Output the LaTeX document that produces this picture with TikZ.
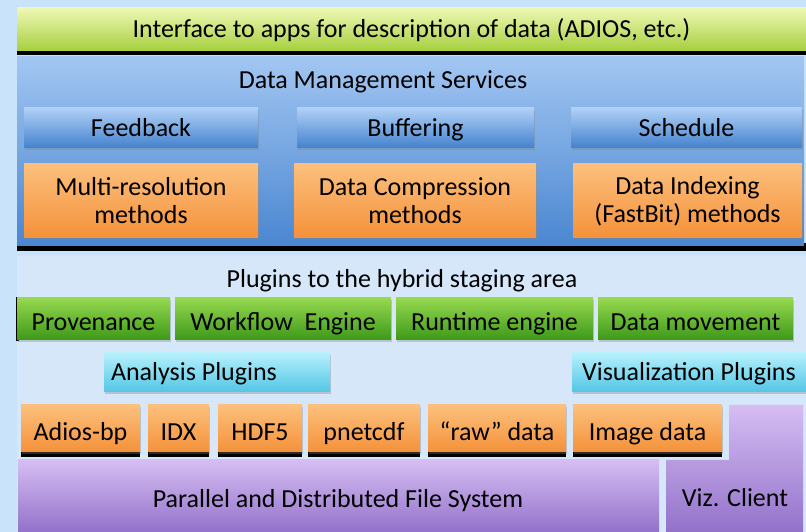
\documentclass[tikz,border=0pt]{standalone}
\usepackage{fontspec}
\setmainfont{Carlito}
\usetikzlibrary{shadows}
\definecolor{bgblue}{HTML}{C8E3FA}
\definecolor{panelbg}{HTML}{D5E7F9}
\definecolor{grnT}{HTML}{EEF8B4}
\definecolor{grnB}{HTML}{A6CF3E}
\definecolor{dmT}{HTML}{A2C6F2}
\definecolor{dmB}{HTML}{4A86D0}
\definecolor{bbT}{HTML}{AFD0F6}
\definecolor{bbB}{HTML}{4482CE}
\definecolor{orT}{HTML}{FCC07C}
\definecolor{orB}{HTML}{F5913A}
\definecolor{gbT}{HTML}{96D850}
\definecolor{gbB}{HTML}{3D9918}
\definecolor{cyT}{HTML}{B6F0FB}
\definecolor{cyB}{HTML}{52C6E6}
\definecolor{puT}{HTML}{D6BDF3}
\definecolor{puB}{HTML}{9272CA}
\tikzset{
  base/.style={inner sep=0pt, outer sep=0pt, align=center, font=\fontsize{26}{28}\selectfont, text=black},
  sl/.style={text height=17pt, text depth=0pt},
  sllow/.style={text height=24pt, text depth=0pt},
  shad/.style={drop shadow={shadow xshift=1pt, shadow yshift=-2pt, opacity=.35}},
  bluebtn/.style={base, top color=bbT, bottom color=bbB, shad},
  orangebtn/.style={base, top color=orT, bottom color=orB, shad},
  greenbtn/.style={base, top color=gbT, bottom color=gbB, shad},
  cyanbtn/.style={base, top color=cyT, bottom color=cyB, shad},
  purplebox/.style={base, top color=puT, bottom color=puB},
  topbar/.style={base, top color=grnT, bottom color=grnB},
  dmpanel/.style={base, top color=dmT, bottom color=dmB},
  lowpanel/.style={base, fill=panelbg},
  label/.style={base, sl}
}
\newcommand{\blk}[7]{\node[#6, minimum width={(#4-#2)*1pt}, minimum height={(#5-#3)*1pt}] (#1) at ({(#2+#4)/2},{532-(#3+#5)/2}) {#7};}
\begin{document}
\begin{tikzpicture}[x=1pt,y=1pt]
\fill[bgblue] (0,0) rectangle (806,532);
\useasboundingbox (0,0) rectangle (806,532);
% top bar
\fill[black] (17,{532-55}) rectangle (806,{532-48});
\blk{iface}{17}{8}{806}{51}{topbar,sl}{Interface to apps for description of data (ADIOS, etc.)}
% data management panel
\fill[black] (17,{532-251}) rectangle (806,{532-243});
\blk{dms}{17}{57}{804}{246}{dmpanel}{}
\node[label] (dmstitle) at (383,{532-80}) {Data Management Services};
\blk{feedback}{24}{108}{258}{148}{bluebtn,sl}{Feedback}
\blk{buffering}{297}{108}{534}{148}{bluebtn,sl}{Buffering}
\blk{schedule}{571}{108}{802}{148}{bluebtn,sl}{Schedule}
\blk{multires}{24}{164}{258}{238}{orangebtn}{Multi-resolution\\methods}
\blk{compress}{294}{164}{536}{238}{orangebtn}{Data Compression\\methods}
\blk{indexing}{573}{164}{802}{238}{orangebtn}{Data Indexing\\(FastBit) methods}
% lower panel
\blk{plugpanel}{17}{256}{806}{532}{lowpanel}{}
\node[label] (plugtitle) at (402,{532-279}) {Plugins to the hybrid staging area};
\fill[black] (16,{532-341}) rectangle (19,{532-297});
\blk{provenance}{17}{298}{170}{340}{greenbtn,sllow}{Provenance}
\blk{workflow}{175}{298}{391}{340}{greenbtn,sllow}{Workflow\ \ Engine}
\blk{runtime}{396}{298}{593}{340}{greenbtn,sllow}{Runtime engine}
\blk{datamove}{598}{298}{793}{340}{greenbtn,sllow}{Data movement}
\blk{analysis}{104}{353}{330}{392}{cyanbtn,sl}{\hspace*{-46pt}Analysis Plugins}
\blk{visual}{572}{353}{806}{392}{cyanbtn,sl}{Visualization Plugins}
% format row with black base shadows
\foreach \a/\b in {21/140,148/209,218/302,308/420,428/566,573/722}
  \fill[black] (\a,{532-457}) rectangle (\b,{532-450});
\blk{adios}{21}{405}{140}{452}{orangebtn,sllow}{Adios-bp}
\blk{idx}{148}{405}{209}{452}{orangebtn,sllow}{IDX}
\blk{hdf}{218}{405}{302}{452}{orangebtn,sllow}{HDF5}
\blk{pnet}{308}{405}{420}{452}{orangebtn,sllow}{pnetcdf}
\blk{raw}{428}{405}{566}{452}{orangebtn,sllow}{“raw” data}
\blk{image}{573}{405}{722}{452}{orangebtn,sllow}{Image data}
% file system
\blk{pfs}{18}{460}{659}{532}{purplebox}{}
\node[label] (pfstext) at (338,{532-499}) {Parallel and Distributed File System};
% viz client L-shape
\shade[top color=puT, bottom color=puB]
  (729,{532-405}) -- (803,{532-405}) -- (803,0) -- (666,0) -- (666,{532-460}) -- (729,{532-460}) -- cycle;
\node[label] (vizclient) at (735,{532-498}) {Viz. Client};
\end{tikzpicture}
\end{document}
